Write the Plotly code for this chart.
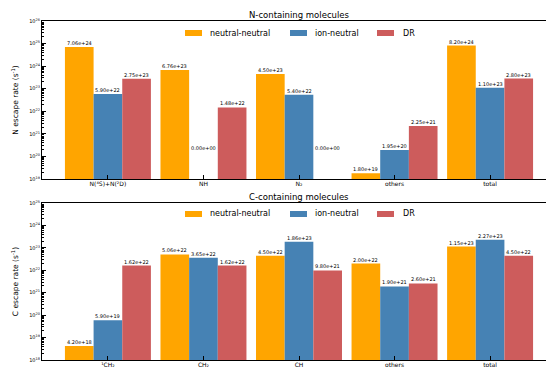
import math
import plotly.graph_objects as go

# ---- data ----
series_names = ["neutral-neutral", "ion-neutral", "DR"]
colors = ["#FFA500", "#4682B4", "#CD5C5C"]

n_categories = ["N(⁴S)+N(²D)", "NH", "N₂", "others", "total"]
n_neutral = [7.06e24, 6.76e23, 4.50e23, 1.80e19, 8.20e24]
n_ion = [5.90e22, 0.0, 5.40e22, 1.95e20, 1.10e23]
n_dr = [2.75e23, 1.48e22, 0.0, 2.25e21, 2.80e23]

c_categories = ["¹CH₂", "CH₂", "CH", "others", "total"]
c_neutral = [4.20e18, 5.06e22, 4.50e22, 2.00e22, 1.15e23]
c_ion = [5.90e19, 3.65e22, 1.86e23, 1.90e21, 2.27e23]
c_dr = [1.62e22, 1.62e22, 9.80e21, 2.60e21, 4.50e22]

n_exp = list(range(19, 27))
c_exp = list(range(18, 26))

W, H = 554, 368
ML, MR, MT, MB = 34, 6, 13, 16
PW, PH = W - ML - MR, H - MT - MB

def px_x(x):
    return (x - ML) / PW

def px_y(y):
    return (H - MB - y) / PH

fig = go.Figure()
annotations = []
shapes = []
offsets = [-0.3, 0.0, 0.3]
ann_font = dict(size=5, color="black", family="DejaVu Sans")

def add_panel(cats, series, xname, yname, exps):
    for si, (name, vals) in enumerate(zip(series_names, series)):
        xs = [i + offsets[si] for i in range(len(cats))]
        fig.add_trace(go.Bar(
            x=xs, y=[v if v > 0 else None for v in vals], width=0.3,
            name=name, marker=dict(color=colors[si], line=dict(width=0)),
            xaxis=xname, yaxis=yname, showlegend=False,
        ))
        for x, v in zip(xs, vals):
            if v > 0:
                annotations.append(dict(
                    x=x, y=math.log10(v), xref=xname, yref=yname,
                    text=f"{v:.2e}", showarrow=False, yanchor="bottom",
                    yshift=-1, font=ann_font))
            else:
                annotations.append(dict(
                    x=x, y=exps[0] + 1.37, xref=xname, yref=yname,
                    text=f"{v:.2e}", showarrow=False, yanchor="middle",
                    font=ann_font))

add_panel(n_categories, [n_neutral, n_ion, n_dr], "x", "y", n_exp)
add_panel(c_categories, [c_neutral, c_ion, c_dr], "x2", "y2", c_exp)

# manual legends (wide, flat swatches like the reference)
leg_sw_x = [177, 282, 369]
leg_tx_x = [200, 305, 393]
for leg_y in (25, 206):
    for si, name in enumerate(series_names):
        shapes.append(dict(type="rect", xref="paper", yref="paper",
                           x0=px_x(leg_sw_x[si]), x1=px_x(leg_sw_x[si] + 17),
                           y0=px_y(leg_y + 3), y1=px_y(leg_y - 3),
                           fillcolor=colors[si], line=dict(width=0)))
        annotations.append(dict(x=px_x(leg_tx_x[si]), y=px_y(leg_y), xref="paper", yref="paper",
                                text=name, showarrow=False, xanchor="left", yanchor="middle",
                                font=dict(size=8, family="DejaVu Sans", color="black")))

def minor_vals(exps):
    out = []
    for e in exps[:-1]:
        for k in range(2, 10):
            out.append(float(k) * 10.0 ** e)
    return out

def yaxis_cfg(exps, title, domain):
    return dict(
        type="log", range=[exps[0], exps[-1]], domain=domain,
        tickvals=[10.0 ** e for e in exps],
        ticktext=[f"10<sup>{e}</sup>" for e in exps],
        ticks="inside", ticklen=4, tickcolor="black",
        minor=dict(ticks="inside", ticklen=2, tickcolor="black", tickvals=minor_vals(exps)),
        showline=True, linecolor="black", linewidth=1, mirror=True,
        showgrid=False, zeroline=False,
        tickfont=dict(size=5, family="DejaVu Sans", color="black"),
        title=dict(text=title, font=dict(size=7.5, family="DejaVu Sans", color="black"), standoff=9),
    )

def xaxis_cfg(cats, anchor):
    return dict(
        range=[-0.69, len(cats) - 1 + 0.69], anchor=anchor,
        tickvals=list(range(len(cats))), ticktext=cats,
        ticks="inside", ticklen=4, tickcolor="black",
        showline=True, linecolor="black", linewidth=1, mirror=True,
        showgrid=False, zeroline=False, ticklabelstandoff=-1,
        tickfont=dict(size=6, family="DejaVu Sans", color="black"),
    )

annotations.append(dict(x=0.5, y=px_y(7), xref="paper", yref="paper", text="N-containing molecules",
                        showarrow=False, yanchor="middle",
                        font=dict(size=8.5, family="DejaVu Sans", color="black")))
annotations.append(dict(x=0.5, y=px_y(189), xref="paper", yref="paper", text="C-containing molecules",
                        showarrow=False, yanchor="middle",
                        font=dict(size=8.5, family="DejaVu Sans", color="black")))

fig.update_layout(
    width=W, height=H,
    margin=dict(l=ML, r=MR, t=MT, b=MB),
    paper_bgcolor="white", plot_bgcolor="white",
    barmode="overlay", showlegend=False,
    xaxis=xaxis_cfg(n_categories, "y"),
    yaxis=yaxis_cfg(n_exp, "N escape rate (s<sup>-1</sup>)", [px_y(171), 1.0]),
    xaxis2=xaxis_cfg(c_categories, "y2"),
    yaxis2=yaxis_cfg(c_exp, "C escape rate (s<sup>-1</sup>)", [0.0, px_y(195)]),
    annotations=annotations, shapes=shapes,
    font=dict(family="DejaVu Sans"),
)

fig.write_html("out.html")
